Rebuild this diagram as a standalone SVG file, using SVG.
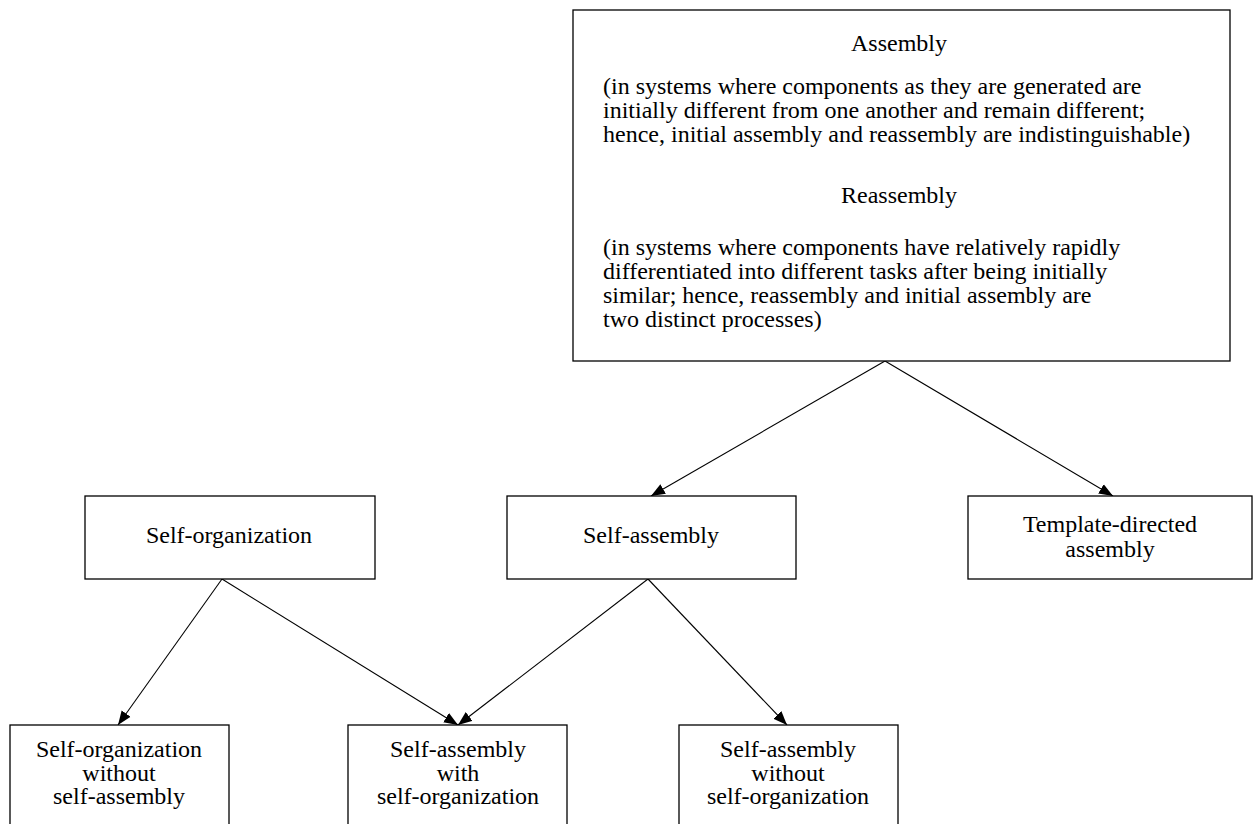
<svg xmlns="http://www.w3.org/2000/svg" width="1253" height="824" viewBox="0 0 1253 824">
<style>
.box{fill:#fff;stroke:#000;stroke-width:1.3}
.t{font-family:"Liberation Serif","Times New Roman",serif;font-size:24px;fill:#000}
.c{text-anchor:middle}
.e{stroke:#000;stroke-width:1.1;fill:none;marker-end:url(#ah)}
</style>
<defs>
<marker id="ah" markerUnits="userSpaceOnUse" markerWidth="14" markerHeight="12" refX="14" refY="5.5" orient="auto" viewBox="0 0 14 11">
<path d="M0,0 L14,5.5 L0,11 z" fill="#000"/>
</marker>
</defs>
<rect width="1253" height="824" fill="#fff"/>
<g id="connectors">
<line class="e" x1="885" y1="361" x2="651" y2="496"/>
<line class="e" x1="885" y1="361" x2="1113" y2="496"/>
<line class="e" x1="222" y1="579" x2="118" y2="725"/>
<line class="e" x1="222" y1="579" x2="458" y2="725"/>
<line class="e" x1="648" y1="579" x2="458" y2="725"/>
<line class="e" x1="648" y1="579" x2="787" y2="725"/>
</g>
<g id="assembly">
<rect class="box" x="573" y="10" width="657" height="351"/>
<text class="t c" x="899" y="51">Assembly</text>
<text class="t" x="603" y="94">(in systems where components as they are generated are</text>
<text class="t" x="603" y="118">initially different from one another and remain different;</text>
<text class="t" x="603" y="142">hence, initial assembly and reassembly are indistinguishable)</text>
<text class="t c" x="899" y="203">Reassembly</text>
<text class="t" x="603" y="255">(in systems where components have relatively rapidly</text>
<text class="t" x="603" y="279">differentiated into different tasks after being initially</text>
<text class="t" x="603" y="303">similar; hence, reassembly and initial assembly are</text>
<text class="t" x="603" y="327">two distinct processes)</text>
</g>
<g id="self-organization">
<rect class="box" x="85" y="496" width="290" height="83"/>
<text class="t c" x="229" y="543">Self-organization</text>
</g>
<g id="self-assembly">
<rect class="box" x="507" y="496" width="289" height="83"/>
<text class="t c" x="651" y="543">Self-assembly</text>
</g>
<g id="template-directed">
<rect class="box" x="968" y="496" width="284" height="83"/>
<text class="t c" x="1110" y="532">Template-directed</text>
<text class="t c" x="1110" y="557">assembly</text>
</g>
<g id="so-without-sa">
<rect class="box" x="10" y="725" width="219" height="110"/>
<text class="t c" x="119" y="757">Self-organization</text>
<text class="t c" x="119" y="781">without</text>
<text class="t c" x="119" y="804">self-assembly</text>
</g>
<g id="sa-with-so">
<rect class="box" x="348" y="725" width="219" height="110"/>
<text class="t c" x="458" y="757">Self-assembly</text>
<text class="t c" x="458" y="781">with</text>
<text class="t c" x="458" y="804">self-organization</text>
</g>
<g id="sa-without-so">
<rect class="box" x="679" y="725" width="219" height="110"/>
<text class="t c" x="788" y="757">Self-assembly</text>
<text class="t c" x="788" y="781">without</text>
<text class="t c" x="788" y="804">self-organization</text>
</g>
</svg>
